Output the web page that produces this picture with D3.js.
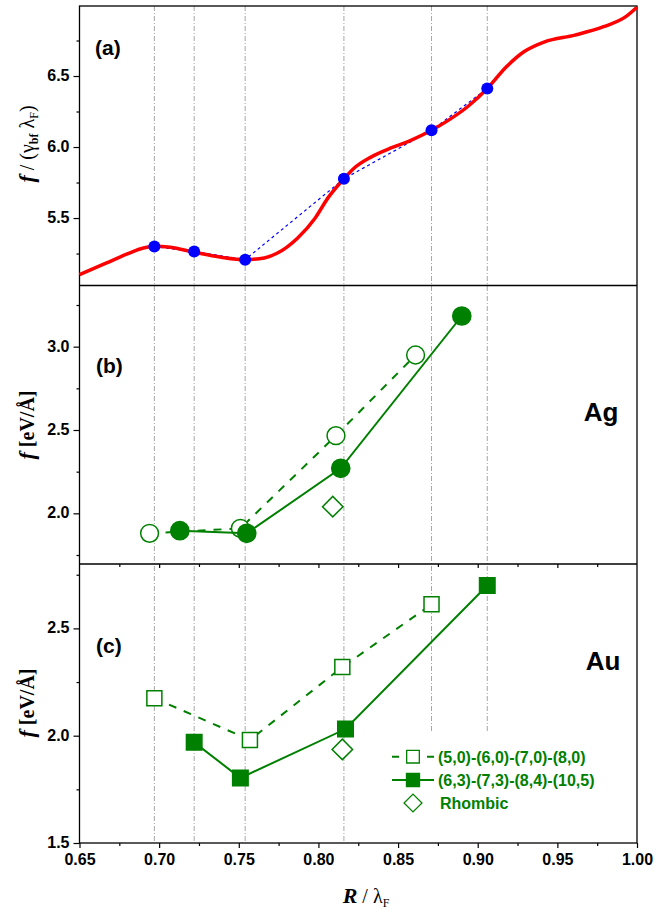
<!DOCTYPE html>
<html>
<head>
<meta charset="utf-8">
<script src="https://cdn.jsdelivr.net/npm/d3@7"></script>
<style>
  body { margin: 0; background: #fff; }
  svg text { font-family: "Liberation Sans", Arial, sans-serif; }
  .tick text { font-weight: bold; font-size: 16px; fill: #000; }
  .serif { font-family: "Liberation Serif", "Times New Roman", serif !important; }
</style>
</head>
<body>
<svg id="chart" width="667" height="913"></svg>
<script>
// ---- data ----
// (a) continuous fit, R/lambdaF vs f/(gamma lambdaF)
const fitR = [0.650, 0.667, 0.680, 0.688, 0.697, 0.707, 0.722, 0.739, 0.754, 0.766, 0.774, 0.787,
              0.798, 0.806, 0.816, 0.822, 0.833, 0.846, 0.857, 0.871, 0.881, 0.894, 0.906, 0.918,
              0.929, 0.942, 0.961, 0.979, 0.993, 1.000];
const fitF = [5.101, 5.184, 5.247, 5.282, 5.301, 5.294, 5.259, 5.224, 5.207, 5.219, 5.252, 5.360,
              5.501, 5.642, 5.776, 5.847, 5.929, 5.995, 6.042, 6.118, 6.184, 6.287, 6.412, 6.565,
              6.671, 6.741, 6.788, 6.847, 6.918, 6.984];
// (a) magic sizes (blue dots)
const magicR = [0.697, 0.722, 0.754, 0.816, 0.871, 0.906];
const magicF = [5.299, 5.264, 5.207, 5.776, 6.118, 6.412];
// dash-dot guide lines
const guideR = [0.697, 0.722, 0.754, 0.816, 0.871, 0.906];

// (b) Ag
const agZigR = [0.694, 0.751, 0.811, 0.861];
const agZigF = [1.880, 1.910, 2.466, 2.950];
const agChiR = [0.713, 0.755, 0.814, 0.890];
const agChiF = [1.896, 1.880, 2.270, 3.184];
const agRhoR = [0.809];
const agRhoF = [2.040];

// (c) Au
const auZigR = [0.697, 0.757, 0.815, 0.871];
const auZigF = [2.175, 1.980, 2.320, 2.612];
const auChiR = [0.722, 0.751, 0.817, 0.906];
const auChiF = [1.969, 1.803, 2.031, 2.700];
const auRhoR = [0.815];
const auRhoF = [1.936];

// ticks
const xMajor = [0.65, 0.70, 0.75, 0.80, 0.85, 0.90, 0.95, 1.00];
const xMinor = [0.675, 0.725, 0.775, 0.825, 0.875, 0.925, 0.975];
const aMajor = [5.5, 6.0, 6.5];
const aMinor = [5.25, 5.75, 6.25, 6.75];
const bMajor = [2.0, 2.5, 3.0];
const bMinor = [1.75, 2.25, 2.75, 3.25];
const cMajor = [1.5, 2.0, 2.5];
const cMinor = [1.75, 2.25, 2.75];
const legendLabels = ["(5,0)-(6,0)-(7,0)-(8,0)", "(6,3)-(7,3)-(8,4)-(10,5)", "Rhombic"];

// ---- layout ----
const GREEN = "#008000";
const L = 79.5, R = 637;
const svg = d3.select("#chart");
svg.append("rect").attr("width", 667).attr("height", 913).attr("fill", "#fff");

const x = d3.scaleLinear().domain([0.65, 1.0]).range([L, R]);
const yA = d3.scaleLinear().domain([5.025, 6.993]).range([285.5, 6]);
const yB = d3.scaleLinear().domain([1.696, 3.367]).range([564, 285.5]);
const yC = d3.scaleLinear().domain([1.5, 2.8]).range([843, 564]);

const zip = (a, b) => a.map((v, i) => [v, b[i]]);
const fmt = d3.format(".1f");

// guide lines (behind everything)
svg.append("g").selectAll("line")
  .data(guideR)
  .join("line")
  .attr("x1", d => x(d)).attr("x2", d => x(d))
  .attr("y1", yA.range()[1])
  .attr("y2", d => d > 0.86 ? yC(2.02) : yC.range()[0])
  .attr("stroke", "#a6a6a6")
  .attr("stroke-width", 1)
  .attr("stroke-dasharray", "5,2,1,2");

// y axes
function yAxis(y, major, minor) {
  const g = svg.append("g").attr("transform", `translate(${L},0)`);
  g.append("g").call(d3.axisLeft(y).tickValues(minor).tickSize(3).tickFormat(""))
    .call(s => s.select(".domain").remove());
  g.append("g").call(d3.axisLeft(y).tickValues(major).tickSize(6).tickPadding(4).tickFormat(fmt))
    .call(s => s.select(".domain").remove())
    .call(s => s.selectAll(".tick text").attr("dy", "0.28em"));
  g.selectAll("line").attr("stroke-width", 1.2);
}
yAxis(yA, aMajor, aMinor);
yAxis(yB, bMajor, bMinor);
yAxis(yC, cMajor, cMinor);

// x axis at bottom
const xg = svg.append("g").attr("transform", `translate(0,${yC.range()[0]})`);
xg.append("g").call(d3.axisBottom(x).tickValues(xMinor).tickSize(3).tickFormat(""))
  .call(s => s.select(".domain").remove());
xg.append("g").call(d3.axisBottom(x).tickValues(xMajor).tickSize(5).tickPadding(6).tickFormat(d3.format(".2f")))
  .call(s => s.select(".domain").remove());
xg.selectAll("line").attr("stroke-width", 1.2);

// ticks on the b/c boundary
const bc = svg.append("g").attr("transform", `translate(0,${yB.range()[0]})`);
bc.append("g").call(d3.axisBottom(x).tickValues(xMinor).tickSize(3).tickFormat(""))
  .call(s => s.select(".domain").remove());
bc.append("g").call(d3.axisBottom(x).tickValues(xMajor.slice(1, -1)).tickSize(4).tickFormat(""))
  .call(s => s.select(".domain").remove());
bc.selectAll("line").attr("stroke-width", 1.2);

// frames
const frame = svg.append("g").attr("stroke", "#000").attr("stroke-width", 1.3).attr("fill", "none");
frame.append("rect").attr("x", L).attr("y", yA.range()[1])
  .attr("width", R - L).attr("height", yC.range()[0] - yA.range()[1]);
[yA.range()[0], yB.range()[0]].forEach(yy =>
  frame.append("line").attr("x1", L).attr("x2", R).attr("y1", yy).attr("y2", yy));

// ---- panel (a) ----
const fitLine = d3.line().x(d => x(d[0])).y(d => yA(d[1])).curve(d3.curveMonotoneX);
svg.append("path").datum(zip(magicR, magicF))
  .attr("d", d3.line().x(d => x(d[0])).y(d => yA(d[1])))
  .attr("fill", "none").attr("stroke", "#0000ff").attr("stroke-width", 1.2)
  .attr("stroke-dasharray", "3,3");
svg.append("path").datum(zip(fitR, fitF))
  .attr("d", fitLine)
  .attr("fill", "none").attr("stroke", "#ff0000").attr("stroke-width", 3.5);
svg.append("g").selectAll("circle")
  .data(zip(magicR, magicF))
  .join("circle")
  .attr("cx", d => x(d[0])).attr("cy", d => yA(d[1])).attr("r", 6)
  .attr("fill", "#0000ff");

// ---- panels (b) and (c) ----
function series(y, R_, F_, opts) {
  const pts = zip(R_, F_);
  if (opts.line) {
    svg.append("path").datum(pts)
      .attr("d", d3.line().x(d => x(d[0])).y(d => y(d[1])))
      .attr("fill", "none").attr("stroke", GREEN).attr("stroke-width", 2)
      .attr("stroke-dasharray", opts.dash || null);
  }
  svg.append("g").selectAll("path")
    .data(pts)
    .join("path")
    .attr("transform", d => `translate(${x(d[0])},${y(d[1])}) rotate(${opts.rot || 0})`)
    .attr("d", d3.symbol().type(opts.type).size(opts.size))
    .attr("fill", opts.filled ? GREEN : "#fff")
    .attr("stroke", GREEN)
    .attr("stroke-width", 1.5);
}
series(yB, agZigR, agZigF, { line: true, dash: "8,8", type: d3.symbolCircle, size: 250 });
series(yB, agChiR, agChiF, { line: true, filled: true, type: d3.symbolCircle, size: 260 });
series(yB, agRhoR, agRhoF, { type: d3.symbolSquare, size: 210, rot: 45 });

series(yC, auZigR, auZigF, { line: true, dash: "8,8", type: d3.symbolSquare, size: 225 });
series(yC, auChiR, auChiF, { line: true, filled: true, type: d3.symbolSquare, size: 240 });
series(yC, auRhoR, auRhoF, { type: d3.symbolSquare, size: 210, rot: 45 });

// ---- texts ----
function label(txt, xx, yy, size, anchor) {
  svg.append("text").attr("x", xx).attr("y", yy)
    .attr("font-size", size).attr("font-weight", "bold")
    .attr("text-anchor", anchor || "start").text(txt);
}
label("(a)", 95, 55, 21);
label("(b)", 96, 373, 21);
label("(c)", 96, 653, 21);
label("Ag", 601, 421, 26, "middle");
label("Au", 603, 670, 26, "middle");

// y titles
function yTitle(cy, parts) {
  const t = svg.append("text").attr("class", "serif")
    .attr("transform", `translate(34,${cy}) rotate(-90)`)
    .attr("text-anchor", "middle").attr("font-size", 20);
  parts.forEach(p => {
    const s = t.append("tspan").text(p.t);
    if (p.i) s.attr("font-style", "italic");
    if (p.b) s.attr("font-weight", "bold");
    if (p.fs) s.attr("font-size", p.fs);
    if (p.dy) s.attr("dy", p.dy);
  });
}
yTitle(144, [
  { t: "f", i: 1, b: 1, fs: 22 }, { t: " / (" }, { t: "γ" },
  { t: "bf", b: 1, fs: 12, dy: 4 }, { t: " λ", dy: -4 }, { t: "F", fs: 12, dy: 4 }, { t: ")", dy: -4 }
]);
yTitle(425, [{ t: "f", i: 1, b: 1, fs: 22 }, { t: " [eV/Å]", b: 1 }]);
yTitle(703, [{ t: "f", i: 1, b: 1, fs: 22 }, { t: " [eV/Å]", b: 1 }]);

// x title
const xt = svg.append("text").attr("class", "serif")
  .attr("x", 366).attr("y", 903).attr("text-anchor", "middle").attr("font-size", 20);
xt.append("tspan").attr("font-style", "italic").attr("font-weight", "bold").attr("font-size", 22).text("R");
xt.append("tspan").text(" / λ");
xt.append("tspan").attr("font-size", 12).attr("dy", 4).text("F");

// ---- legend ----
const lg = svg.append("g");
const rows = [756.7, 780, 803];
const lx1 = 392, lx2 = 434, mx = 413;
lg.append("line").attr("x1", lx1).attr("x2", lx2).attr("y1", rows[0]).attr("y2", rows[0])
  .attr("stroke", GREEN).attr("stroke-width", 2).attr("stroke-dasharray", "7,28");
lg.append("path").attr("transform", `translate(${mx},${rows[0]})`)
  .attr("d", d3.symbol().type(d3.symbolSquare).size(160))
  .attr("fill", "#fff").attr("stroke", GREEN).attr("stroke-width", 1.3);
lg.append("line").attr("x1", lx1).attr("x2", lx2).attr("y1", rows[1]).attr("y2", rows[1])
  .attr("stroke", GREEN).attr("stroke-width", 2);
lg.append("path").attr("transform", `translate(${mx},${rows[1]})`)
  .attr("d", d3.symbol().type(d3.symbolSquare).size(170))
  .attr("fill", GREEN).attr("stroke", GREEN).attr("stroke-width", 1.3);
lg.append("path").attr("transform", `translate(${mx},${rows[2]}) rotate(45)`)
  .attr("d", d3.symbol().type(d3.symbolSquare).size(160))
  .attr("fill", "#fff").attr("stroke", GREEN).attr("stroke-width", 1.3);
lg.selectAll("text.leg")
  .data(legendLabels)
  .join("text")
  .attr("class", "leg")
  .attr("x", (d, i) => i === 2 ? 440 : 438)
  .attr("y", (d, i) => rows[i] + 6)
  .attr("font-size", 16).attr("font-weight", "bold").attr("fill", GREEN)
  .text(d => d);
</script>
</body>
</html>
